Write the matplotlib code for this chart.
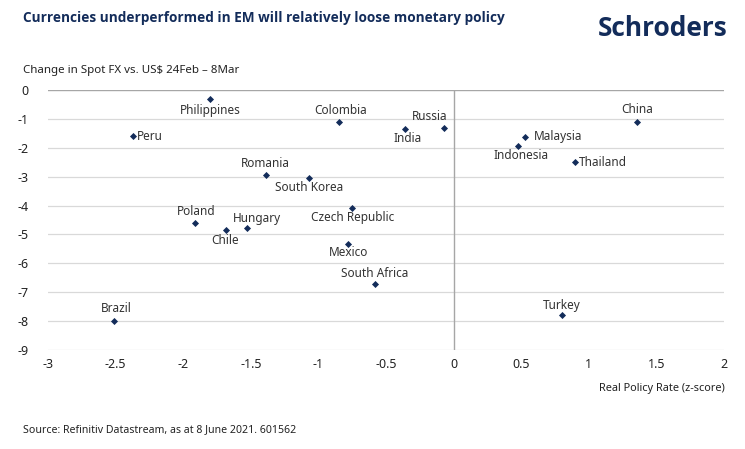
import matplotlib
matplotlib.use("Agg")
import matplotlib.pyplot as plt

countries = ["Philippines", "Peru", "Colombia", "India", "Russia", "China",
             "Malaysia", "Indonesia", "Thailand", "Romania", "South Korea",
             "Czech Republic", "Poland", "Chile", "Hungary", "Mexico",
             "South Africa", "Brazil", "Turkey"]
policy_z = [-1.80, -2.37, -0.85, -0.36, -0.07, 1.36,
            0.53, 0.48, 0.90, -1.39, -1.07,
            -0.75, -1.91, -1.68, -1.53, -0.78,
            -0.58, -2.51, 0.80]
fx_change = [-0.31, -1.60, -1.12, -1.36, -1.31, -1.10,
             -1.63, -1.95, -2.50, -2.95, -3.03,
             -4.08, -4.60, -4.85, -4.78, -5.33,
             -6.72, -7.98, -7.80]

x_ticks = [-3, -2.5, -2, -1.5, -1, -0.5, 0, 0.5, 1, 1.5, 2]
y_ticks = list(range(0, -10, -1))

NAVY = "#132c5a"
TXT = "#333333"

# label placement: (dx px, dy px, ha)
label_pos = {
    "Philippines": (0, -12, "center"), "Peru": (4, 0, "left"),
    "Colombia": (2, 12, "center"), "India": (3, -9, "center"),
    "Russia": (-14, 11, "center"), "China": (0, 12, "center"),
    "Malaysia": (9, 1, "left"), "Indonesia": (3, -9, "center"),
    "Thailand": (4, 0, "left"), "Romania": (0, 12, "center"),
    "South Korea": (0, -10, "center"), "Czech Republic": (0, -10, "center"),
    "Poland": (1, 11, "center"), "Chile": (-1, -10, "center"),
    "Hungary": (10, 10, "center"), "Mexico": (0, -9, "center"),
    "South Africa": (0, 11, "center"), "Brazil": (2, 12, "center"),
    "Turkey": (0, 10, "center"),
}

plt.rcParams['font.family'] = ['Noto Sans', 'DejaVu Sans']
heavy = ['Open Sans', 'Noto Sans', 'DejaVu Sans']

fig = plt.figure(figsize=(7.45, 4.49), dpi=100)
ax = fig.add_axes([48 / 745, 1 - 350 / 449, 676 / 745, 260 / 449])

for yv in y_ticks[1:]:
    ax.axhline(yv, color="#d9d9d9", lw=0.9, zorder=1)
ax.axhline(0, color="#a6a6a6", lw=1.0, zorder=1)
ax.axvline(0, color="#a6a6a6", lw=1.0, zorder=1)

ax.scatter(policy_z, fx_change, marker="D", s=13, color=NAVY, zorder=3, lw=0)

for name, xv, yv in zip(countries, policy_z, fx_change):
    dx, dy, ha = label_pos[name]
    ax.annotate(name, (xv, yv), xytext=(dx, dy), textcoords="offset pixels",
                ha=ha, va="center", fontsize=8.5, color=TXT)

ax.set_xlim(-3, 2)
ax.set_ylim(-9, 0)
ax.set_xticks(x_ticks)
ax.set_xticklabels([f"{v:g}" for v in x_ticks])
ax.set_yticks(y_ticks)
ax.set_yticklabels([str(v) for v in y_ticks])
ax.tick_params(length=0, labelsize=9, colors="#222222")
ax.tick_params(axis="y", pad=14)
ax.tick_params(axis="x", pad=6)
for s in ax.spines.values():
    s.set_visible(False)

fig.text(23 / 745, 1 - 18 / 449, "Currencies underperformed in EM will relatively loose monetary policy",
         fontsize=9.8, fontweight="bold", color=NAVY, family=heavy, va="center")
fig.text(728 / 745, 1 - 29 / 449, "Schroders", fontsize=19, fontweight="bold",
         color=NAVY, ha="right", va="center", family=heavy)
fig.text(23 / 745, 1 - 70 / 449, "Change in Spot FX vs. US$ 24Feb \u2013 8Mar",
         fontsize=8.3, color="#222222", va="center")
fig.text(725 / 745, 1 - 389 / 449, "Real Policy Rate (z-score)",
         fontsize=7.9, color="#222222", ha="right", va="center")
fig.text(23 / 745, 1 - 430 / 449, "Source: Refinitiv Datastream, as at 8 June 2021. 601562",
         fontsize=7.6, color="#222222", va="center")

fig.savefig("out.png", dpi=100, facecolor="white")
